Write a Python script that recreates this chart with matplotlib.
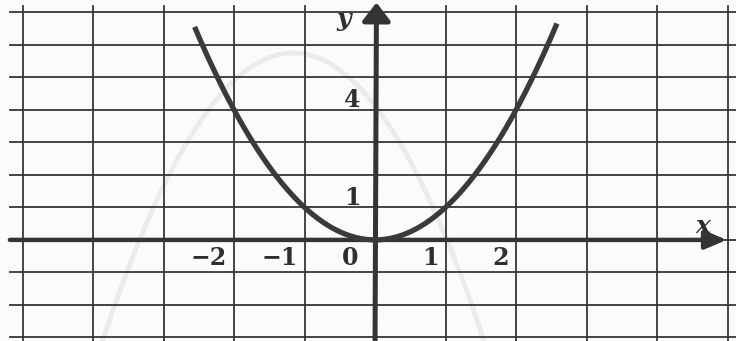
import numpy as np
import matplotlib
matplotlib.use("Agg")
import matplotlib.pyplot as plt

# Graph of y = a*x^2 on a unit grid
coef_a = 1.0
x_start, x_end = -2.56, 2.58

# faint downward parabola showing through from the back of the page
ghost_vertex = (-1.16, 5.75)
ghost_coef = -1.21
ghost_x_start, ghost_x_end = -3.9, 1.6

x_ticks = [-2, -1, 0, 1, 2]
x_tick_labels = ["\u22122", "\u22121", "0", "1", "2"]
y_ticks = [1, 4]
y_tick_labels = ["1", "4"]

grid_x = list(range(-5, 6))
grid_y = list(range(-3, 8))

xlim = (-5.32, 5.12)
ylim = (-3.11, 7.38)

ink = "#343434"
fig = plt.figure(figsize=(7.36, 3.41), dpi=100, facecolor="#fbfbfa")
ax = fig.add_axes([0, 0, 1, 1])
ax.set_facecolor("#fbfbfa")
ax.set_xlim(*xlim)
ax.set_ylim(*ylim)
ax.axis("off")

# grid
for gx in grid_x:
    ax.plot([gx, gx], [ylim[0], 7.2], color="#363636", lw=1.3, zorder=1)
for gy in grid_y:
    ax.plot([-5.18, xlim[1]], [gy, gy], color="#363636", lw=1.3, zorder=1)

# bleed-through curve
gxs = np.linspace(ghost_x_start, ghost_x_end, 300)
gys = ghost_vertex[1] + ghost_coef * (gxs - ghost_vertex[0]) ** 2
ax.plot(gxs, gys, color="#ebebea", lw=3.5, zorder=0.5, solid_capstyle="round")

# axes with arrows
ax.annotate("", xy=(4.99, 0), xytext=(-5.18, 0),
            arrowprops=dict(arrowstyle="-|>,head_length=1.3,head_width=0.55",
                            color=ink, lw=3.2, shrinkA=0, shrinkB=0), zorder=4)
ax.annotate("", xy=(0.02, 7.3), xytext=(0, ylim[0]),
            arrowprops=dict(arrowstyle="-|>,head_length=1.1,head_width=0.85",
                            color=ink, lw=3.6, shrinkA=0, shrinkB=0), zorder=4)

# parabola
xs = np.linspace(x_start, x_end, 400)
ax.plot(xs, coef_a * xs ** 2, color="#3a3a3a", lw=3.8, zorder=5,
        solid_capstyle="butt")

font = dict(family="DejaVu Serif", color="#2e2e2e", fontsize=17, weight="bold")
for t, lab in zip(x_ticks, x_tick_labels):
    off = -0.24 if t == 0 else -0.1
    ax.text(t + off, -0.55, lab, ha="right", va="center", zorder=6, **font)
for t, lab in zip(y_ticks, y_tick_labels):
    ax.text(-0.2, t + 0.3, lab, ha="right", va="center", zorder=6, **font)

ax.text(-0.45, 6.8, "y", ha="center", va="center", fontstyle="italic",
        family="DejaVu Serif", fontsize=18, weight="bold", color="#2e2e2e")
ax.text(4.65, 0.42, "x", ha="center", va="center", fontstyle="italic",
        family="DejaVu Serif", fontsize=18, weight="bold", color="#2e2e2e")

fig.savefig("out.png", dpi=100, facecolor=fig.get_facecolor())
